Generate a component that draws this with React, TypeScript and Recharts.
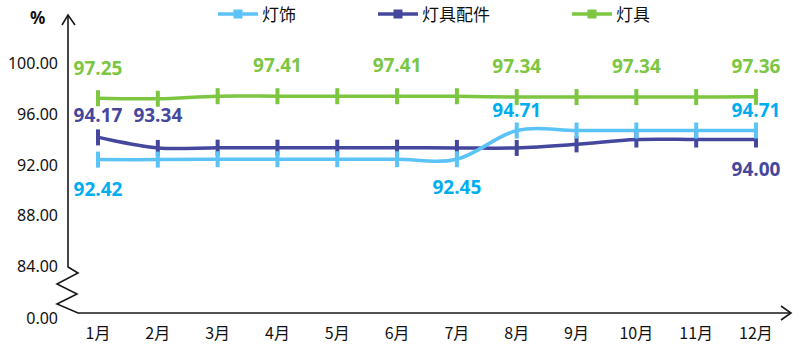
import React from "react";
import { LineChart, Line, XAxis, YAxis, LabelList } from "recharts";

const months = ["1月", "2月", "3月", "4月", "5月", "6月", "7月", "8月", "9月", "10月", "11月", "12月"];
const dengshi = [92.42, 92.42, 92.45, 92.45, 92.45, 92.45, 92.45, 94.71, 94.71, 94.71, 94.71, 94.71];
const peijian = [94.17, 93.34, 93.36, 93.36, 93.36, 93.36, 93.34, 93.34, 93.62, 94.0, 94.0, 94.0];
const dengju = [97.25, 97.21, 97.41, 97.41, 97.41, 97.41, 97.41, 97.34, 97.34, 97.34, 97.34, 97.36];
const yTicks = [84, 88, 92, 96, 100];

// which points get a value label, and how far from the point (px, negative = above)
const dengshiLabels: Record<number, number> = { 0: 30, 6: 28, 7: -20, 11: -20 };
const peijianLabels: Record<number, number> = { 0: -22, 1: -33, 11: 30 };
const dengjuLabels: Record<number, number> = { 0: -30, 3: -31, 5: -31, 7: -31, 9: -31, 11: -31 };

const Y_MIN = 80.35;
const Y_MAX = 103.8;

const data = months.map((m, i) => ({
  month: m,
  dengshi: dengshi[i],
  peijian: peijian[i],
  dengju: dengju[i],
}));

const series = [
  { key: "peijian", name: "灯具配件", line: "#45479e", label: "#45479e", labels: peijianLabels },
  { key: "dengshi", name: "灯饰", line: "#5cc3f6", label: "#00aeef", labels: dengshiLabels },
  { key: "dengju", name: "灯具", line: "#7cc641", label: "#7cc641", labels: dengjuLabels },
];
const legendOrder = ["dengshi", "peijian", "dengju"];

// catmull-rom style smoothing, close to the reference's curves
const smoothCurve = (context: any) => {
  let pts: [number, number][] = [];
  return {
    areaStart() {},
    areaEnd() {},
    lineStart() {
      pts = [];
    },
    point(x: number, y: number) {
      pts.push([+x, +y]);
    },
    lineEnd() {
      const n = pts.length;
      if (!n) return;
      context.moveTo(pts[0][0], pts[0][1]);
      for (let i = 0; i < n - 1; i++) {
        const p0 = pts[i - 1] || pts[i];
        const p1 = pts[i];
        const p2 = pts[i + 1];
        const p3 = pts[i + 2] || p2;
        context.bezierCurveTo(
          p1[0] + (p2[0] - p0[0]) / 6,
          p1[1] + (p2[1] - p0[1]) / 6,
          p2[0] - (p3[0] - p1[0]) / 6,
          p2[1] - (p3[1] - p1[1]) / 6,
          p2[0],
          p2[1]
        );
      }
    },
  };
};

const YTick = (props: any) => {
  const { x, y, payload } = props;
  const isBreak = payload.value === Y_MIN;
  return (
    <text
      x={x}
      y={y + (isBreak ? 5 : 0)}
      dy="0.355em"
      textAnchor="end"
      fontSize={16}
      fontFamily="Noto Sans, sans-serif"
      fill="#111"
    >
      {isBreak ? "0.00" : payload.value.toFixed(2)}
    </text>
  );
};

const XTick = (props: any) => {
  const { x, y, payload } = props;
  return (
    <text
      x={x}
      y={y + 12}
      dy="0.355em"
      textAnchor="middle"
      fontSize={16}
      fontFamily="Noto Sans CJK SC, sans-serif"
      fill="#111"
    >
      {payload.value}
    </text>
  );
};

export default function App() {
  return (
    <div style={{ position: "absolute", left: 0, top: 0, width: 806, height: 354, background: "#fff" }}>
      <LineChart
        width={806}
        height={354}
        data={data}
        margin={{ top: 15, right: 20, left: 0, bottom: 0 }}
      >
        <XAxis
          dataKey="month"
          height={41}
          axisLine={false}
          tickLine={false}
          tick={<XTick />}
          interval={0}
          padding={{ left: 30, right: 30 }}
        />
        <YAxis
          width={68}
          domain={[Y_MIN, Y_MAX]}
          ticks={[Y_MIN, ...yTicks]}
          axisLine={false}
          tickLine={false}
          tickMargin={4}
          tick={<YTick />}
          interval={0}
        />
        {series.map((s) => (
          <Line
            key={s.key}
            dataKey={s.key}
            name={s.name}
            type={smoothCurve as any}
            stroke={s.line}
            strokeWidth={3.5}
            isAnimationActive={false}
            activeDot={false}
            dot={(p: any) => (
              <rect key={`${s.key}-${p.index}`} x={p.cx - 2} y={p.cy - 8} width={4} height={16} fill={s.line} />
            )}
          >
            <LabelList
              dataKey={s.key}
              content={(p: any) => {
                const dy = s.labels[p.index];
                if (dy === undefined) return null;
                return (
                  <text
                    x={p.x}
                    y={p.y + dy}
                    dy="0.355em"
                    textAnchor="middle"
                    fontSize={19}
                    fontWeight={700}
                    fontFamily="Open Sans, sans-serif"
                    fill={s.label}
                  >
                    {Number(p.value).toFixed(2)}
                  </text>
                );
              }}
            />
          </Line>
        ))}
      </LineChart>
      <svg
        width={806}
        height={354}
        style={{ position: "absolute", left: 0, top: 0, pointerEvents: "none" }}
      >
        <g stroke="#1a1a1a" strokeWidth={1.6} fill="none">
          <polyline points="68,15 68,267 78,273 57,284 77,294 57,304 78,313 791,313" />
          <polyline points="62,25 68,15 75,25" />
          <polyline points="781,306 791,313 781,320" />
        </g>
        <text x={30} y={24} fontSize={17} fontWeight={700} fontFamily="Noto Sans, sans-serif" fill="#111">
          %
        </text>
      </svg>
      <div
        style={{
          position: "absolute",
          left: 218,
          top: 3,
          display: "flex",
          gap: 82,
          fontFamily: "Noto Sans CJK SC, sans-serif",
          fontSize: 17,
          color: "#111",
          lineHeight: "22px",
        }}
      >
        {legendOrder.map((k) => {
          const s = series.find((x) => x.key === k)!;
          return (
            <div key={k} style={{ display: "flex", alignItems: "center", gap: 4 }}>
              <svg width={40} height={22}>
                <line x1={0} y1={11} x2={40} y2={11} stroke={s.line} strokeWidth={3.5} />
                <rect x={15.5} y={6.5} width={9} height={9} fill={s.line} />
              </svg>
              <span>{s.name}</span>
            </div>
          );
        })}
      </div>
    </div>
  );
}
